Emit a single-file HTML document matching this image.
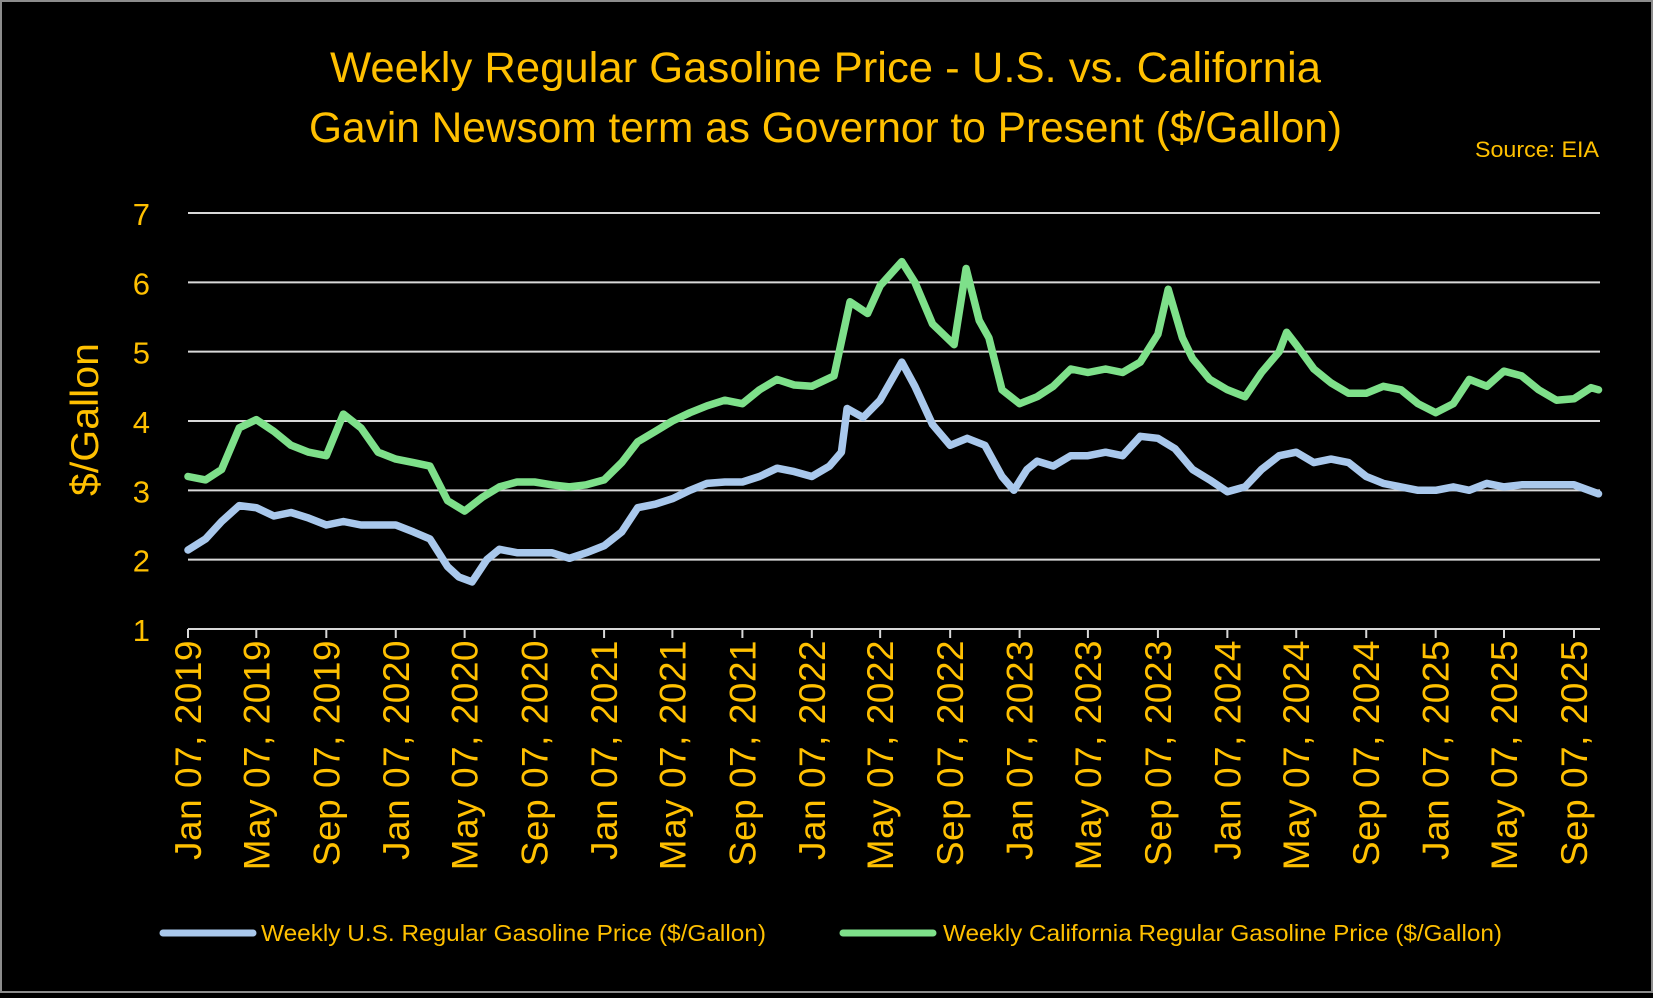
<!DOCTYPE html>
<html><head><meta charset="utf-8"><style>
html,body{margin:0;padding:0;background:#000;}
body{width:1653px;height:993px;overflow:hidden;}
svg text{font-family:"Liberation Sans",sans-serif;}
</style></head><body>
<svg id="chart" width="1653" height="993" xmlns="http://www.w3.org/2000/svg">
<rect x="1" y="1" width="1651" height="991" fill="#000" stroke="#8c8c8c" stroke-width="2"/>
<text x="330" y="82" font-size="43" fill="#FFC000" textLength="991" lengthAdjust="spacingAndGlyphs">Weekly Regular Gasoline Price - U.S. vs. California</text>
<text x="309" y="142" font-size="43" fill="#FFC000" textLength="1033" lengthAdjust="spacingAndGlyphs">Gavin Newsom term as Governor to Present ($/Gallon)</text>
<text x="1475" y="157" font-size="22" fill="#FFC000" textLength="124" lengthAdjust="spacingAndGlyphs">Source: EIA</text>
<text transform="translate(98,496) rotate(-90)" font-size="39" fill="#FFC000" textLength="153" lengthAdjust="spacingAndGlyphs">$/Gallon</text>
<g id="grid"></g><g id="xaxis"></g><g id="series"></g>
<g>
<line x1="163" y1="933" x2="253" y2="933" stroke="#a9c8ec" stroke-width="7" stroke-linecap="round"/>
<text x="261" y="941" font-size="23" fill="#FFC000" textLength="505" lengthAdjust="spacingAndGlyphs">Weekly U.S. Regular Gasoline Price  ($/Gallon)</text>
<line x1="843" y1="933" x2="933" y2="933" stroke="#7ee08a" stroke-width="7" stroke-linecap="round"/>
<text x="943" y="941" font-size="23" fill="#FFC000" textLength="559" lengthAdjust="spacingAndGlyphs">Weekly California Regular Gasoline Price ($/Gallon)</text>
</g>
</svg>
<script>
const yTicks=[1,2,3,4,5,6,7];
const xTickLabels=["Jan 07, 2019","May 07, 2019","Sep 07, 2019","Jan 07, 2020","May 07, 2020","Sep 07, 2020","Jan 07, 2021","May 07, 2021","Sep 07, 2021","Jan 07, 2022","May 07, 2022","Sep 07, 2022","Jan 07, 2023","May 07, 2023","Sep 07, 2023","Jan 07, 2024","May 07, 2024","Sep 07, 2024","Jan 07, 2025","May 07, 2025","Sep 07, 2025"];
const usDates=["2019-01-07","2019-02-07","2019-03-07","2019-04-07","2019-05-07","2019-06-07","2019-07-07","2019-08-07","2019-09-07","2019-10-07","2019-11-07","2019-12-07","2020-01-07","2020-02-07","2020-03-07","2020-04-07","2020-04-27","2020-05-20","2020-06-15","2020-07-07","2020-08-07","2020-09-07","2020-10-07","2020-11-07","2020-12-07","2021-01-07","2021-02-07","2021-03-07","2021-04-07","2021-05-07","2021-06-07","2021-07-07","2021-08-07","2021-09-07","2021-10-07","2021-11-07","2021-12-07","2022-01-07","2022-02-07","2022-02-28","2022-03-10","2022-04-07","2022-05-07","2022-06-14","2022-07-07","2022-08-07","2022-09-07","2022-10-07","2022-11-07","2022-12-07","2022-12-28","2023-01-20","2023-02-07","2023-03-07","2023-04-07","2023-05-07","2023-06-07","2023-07-07","2023-08-07","2023-09-07","2023-10-07","2023-11-07","2023-12-07","2024-01-07","2024-02-07","2024-03-07","2024-04-07","2024-05-07","2024-06-07","2024-07-07","2024-08-07","2024-09-07","2024-10-07","2024-11-07","2024-12-07","2025-01-07","2025-02-07","2025-03-07","2025-04-07","2025-05-07","2025-06-07","2025-07-07","2025-08-07","2025-09-07","2025-10-20"];
const usValues=[2.14,2.3,2.55,2.78,2.75,2.63,2.68,2.6,2.5,2.55,2.5,2.5,2.5,2.4,2.3,1.9,1.75,1.68,2.0,2.15,2.1,2.1,2.1,2.02,2.1,2.2,2.4,2.75,2.8,2.88,3.0,3.1,3.12,3.12,3.2,3.32,3.27,3.2,3.35,3.55,4.18,4.05,4.3,4.85,4.5,3.95,3.65,3.75,3.65,3.2,3.0,3.3,3.42,3.35,3.5,3.5,3.55,3.5,3.78,3.75,3.6,3.3,3.15,2.98,3.05,3.3,3.5,3.55,3.4,3.45,3.4,3.2,3.1,3.05,3.0,3.0,3.05,3.0,3.1,3.05,3.08,3.08,3.08,3.08,2.95];
const caDates=["2019-01-07","2019-02-07","2019-03-07","2019-04-07","2019-05-07","2019-06-07","2019-07-07","2019-08-07","2019-09-07","2019-10-07","2019-11-07","2019-12-07","2020-01-07","2020-02-07","2020-03-07","2020-04-07","2020-05-07","2020-06-07","2020-07-07","2020-08-07","2020-09-07","2020-10-07","2020-11-07","2020-12-07","2021-01-07","2021-02-07","2021-03-07","2021-04-07","2021-05-07","2021-06-07","2021-07-07","2021-08-07","2021-09-07","2021-10-07","2021-11-07","2021-12-07","2022-01-07","2022-02-15","2022-03-15","2022-04-15","2022-05-07","2022-06-14","2022-07-07","2022-08-07","2022-09-14","2022-10-05","2022-10-28","2022-11-14","2022-12-07","2023-01-07","2023-02-07","2023-03-07","2023-04-07","2023-05-07","2023-06-07","2023-07-07","2023-08-07","2023-09-07","2023-09-25","2023-10-20","2023-11-07","2023-12-07","2024-01-07","2024-02-07","2024-03-07","2024-04-07","2024-04-20","2024-05-07","2024-06-07","2024-07-07","2024-08-07","2024-09-07","2024-10-07","2024-11-07","2024-12-07","2025-01-07","2025-02-07","2025-03-07","2025-04-07","2025-05-07","2025-06-07","2025-07-07","2025-08-07","2025-09-07","2025-10-07","2025-10-20"];
const caValues=[3.2,3.15,3.3,3.9,4.02,3.85,3.65,3.55,3.5,4.1,3.9,3.55,3.45,3.4,3.35,2.85,2.7,2.9,3.05,3.12,3.12,3.08,3.05,3.08,3.15,3.4,3.7,3.85,4.0,4.12,4.22,4.3,4.25,4.45,4.6,4.52,4.5,4.65,5.72,5.55,5.95,6.3,6.0,5.4,5.1,6.2,5.45,5.2,4.45,4.25,4.35,4.5,4.75,4.7,4.75,4.7,4.85,5.25,5.9,5.2,4.9,4.6,4.45,4.35,4.7,5.0,5.28,5.1,4.75,4.55,4.4,4.4,4.5,4.45,4.25,4.12,4.25,4.6,4.5,4.72,4.65,4.45,4.3,4.32,4.48,4.45];
const X0=188,Y1=629,PXD=0.5692,PXU=69.33;
const t0=Date.UTC(2019,0,7);
function dayOf(s){const p=s.split(/[-, ]+/);return (Date.UTC(+p[0],+p[1]-1,+p[2])-t0)/864e5;}
function xs(s){return X0+dayOf(s)*PXD;}
function ys(v){return Y1-(v-1)*PXU;}
const NS="http://www.w3.org/2000/svg";
function mk(tag,attrs,parent){const e=document.createElementNS(NS,tag);for(const k in attrs)e.setAttribute(k,attrs[k]);parent.appendChild(e);return e;}
const grid=document.getElementById('grid'),xa=document.getElementById('xaxis'),ser=document.getElementById('series');
yTicks.forEach(v=>{
 if(v>1){const l=mk('line',{x1:X0,x2:1600,y1:ys(v),y2:ys(v),stroke:'#d9d9d9','stroke-width':2},grid);
 
 }
 const t=mk('text',{x:150,y:ys(v)+12,'font-size':31,fill:'#FFC000','text-anchor':'end'},grid);t.textContent=v;
 
 
});
const ax=mk('line',{x1:X0,x2:1600,y1:Y1,y2:Y1,stroke:'#d9d9d9','stroke-width':2},xa);


const mon={Jan:1,May:5,Sep:9};
xTickLabels.forEach(lab=>{
 const p=lab.replace(',','').split(' ');const x=X0+((Date.UTC(+p[2],mon[p[0]]-1,+p[1])-t0)/864e5)*PXD;
 const tk=mk('line',{x1:x,x2:x,y1:Y1,y2:Y1+9,stroke:'#d9d9d9','stroke-width':2},xa);
 
 
 const t=mk('text',{transform:`translate(${x+13},640) rotate(-90)`,'font-size':37,'letter-spacing':'0.5px',fill:'#FFC000','text-anchor':'end'},xa);t.textContent=lab;
 
 
});
function line(d,v,col,name){
 const pts=d.map((s,i)=>xs(s).toFixed(1)+','+ys(v[i]).toFixed(1)).join(' ');
 const pl=mk('polyline',{points:pts,fill:'none',stroke:col,'stroke-width':7.5,'stroke-linejoin':'round','stroke-linecap':'round'},ser);
 
 
}
line(caDates,caValues,'#7ee08a','california-price-line');
line(usDates,usValues,'#a9c8ec','us-price-line');
</script>
</body></html>
